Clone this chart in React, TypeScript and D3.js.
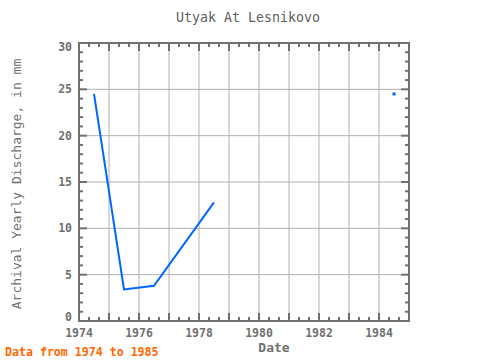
import React from "react";
import * as d3 from "d3";

const years = [1974.5, 1975.5, 1976.5, 1978.5];
const values = [24.5, 3.4, 3.8, 12.8];
const pointYears = [1984.5];
const pointValues = [24.5];
const xTicks = [1974, 1976, 1978, 1980, 1982, 1984];
const yTicks = [0, 5, 10, 15, 20, 25, 30];

const W = 480, H = 360;
const L = 79, R = 409, T = 43, B = 321;
const font = "'DejaVu Sans Mono', 'Liberation Mono', monospace";
const axisCol = "#707070";

export default function App() {
  const x = d3.scaleLinear().domain([1974, 1985]).range([L, R]);
  const y = d3.scaleLinear().domain([0, 30]).range([B, T]);
  const line = d3.line<number>().x((_, i) => x(years[i])).y((d) => y(d));

  const xMinor = d3.range(0, 34).map((i) => 1974 + i / 3);
  const yMinor = d3.range(0, 31);
  const yearGrid = d3.range(1975, 1985);
  const yGrid = [5, 10, 15, 20, 25];

  return (
    <svg width={W} height={H} style={{ position: "absolute", left: 0, top: 0 }}>
      <rect x={0} y={0} width={W} height={H} fill="#fff" />
      <text x={248} y={22} textAnchor="middle" fontFamily={font} fontSize={13.3} fill="#606060">Utyak At Lesnikovo</text>
      {yearGrid.map((v) => (
        <line key={"gx" + v} x1={x(v)} x2={x(v)} y1={T} y2={B} stroke="#b0b0b0" strokeWidth={1} />
      ))}
      {yGrid.map((v) => (
        <line key={"gy" + v} x1={L} x2={R} y1={y(v)} y2={y(v)} stroke="#b0b0b0" strokeWidth={1} />
      ))}
      {xMinor.map((v, i) => {
        const major = i % 3 === 0;
        const len = major ? 8 : 4;
        return (
          <g key={"xm" + i}>
            <line x1={x(v)} x2={x(v)} y1={B} y2={B - len} stroke={axisCol} strokeWidth={2} />
            <line x1={x(v)} x2={x(v)} y1={T} y2={T + len} stroke={axisCol} strokeWidth={2} />
          </g>
        );
      })}
      {yMinor.map((v) => {
        const major = v % 5 === 0;
        const len = major ? 8 : 4;
        return (
          <g key={"ym" + v}>
            <line x1={L} x2={L + len} y1={y(v)} y2={y(v)} stroke={axisCol} strokeWidth={2} />
            <line x1={R} x2={R - len} y1={y(v)} y2={y(v)} stroke={axisCol} strokeWidth={2} />
          </g>
        );
      })}
      <rect x={L} y={T} width={R - L} height={B - T} fill="none" stroke={axisCol} strokeWidth={2} />
      {xTicks.map((v) => (
        <text key={"xt" + v} x={x(v)} y={B + 16} textAnchor="middle" fontFamily={font} fontSize={11.5} fontWeight="bold" fill={axisCol}>{v}</text>
      ))}
      {yTicks.map((v) => {
        const off = v === 0 ? -4 : v === 30 ? 4 : 0;
        return (
          <text key={"yt" + v} x={L - 7} y={y(v) + 4 + off} textAnchor="end" fontFamily={font} fontSize={11.5} fontWeight="bold" fill={axisCol}>{v}</text>
        );
      })}
      <path d={line(values) || ""} fill="none" stroke="#0066ff" strokeWidth={2} />
      {pointYears.map((v, i) => (
        <rect key={"p" + i} x={x(v) - 1.5} y={y(pointValues[i]) - 1.5} width={3} height={3} fill="#0066ff" />
      ))}
      <text x={274} y={352} textAnchor="middle" fontFamily={font} fontSize={13} fontWeight="bold" fill={axisCol}>Date</text>
      <text transform={`translate(21,${(T + B) / 2 + 2}) rotate(-90)`} textAnchor="middle" fontFamily={font} fontSize={13} fill={axisCol}>Archival Yearly Discharge, in mm</text>
      <text x={5} y={356} fontFamily={font} fontSize={11.6} fontWeight="bold" fill="#ff6600">Data from 1974 to 1985</text>
    </svg>
  );
}
